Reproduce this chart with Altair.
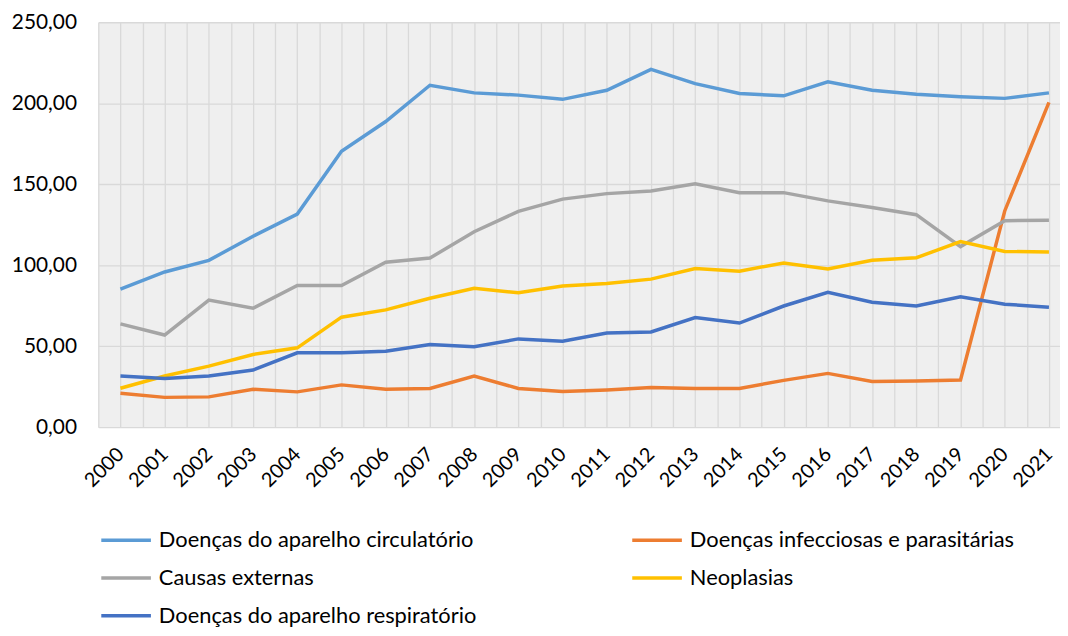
import altair as alt
import pandas as pd

years = list(range(2000, 2022))

circulatorio = [85.3, 95.8, 103.0, 117.9, 131.6, 170.3, 188.7, 211.1, 206.4, 205.0, 202.4,
                208.0, 220.9, 212.1, 206.0, 204.6, 213.2, 208.0, 205.6, 204.0, 203.0, 206.4]
infecciosas = [21.0, 18.4, 18.7, 23.4, 21.8, 26.1, 23.4, 23.9, 31.6, 23.9, 22.0,
               23.0, 24.5, 23.9, 23.9, 28.9, 33.2, 28.2, 28.5, 29.1, 133.5, 200.5]
externas = [63.8, 56.9, 78.5, 73.4, 87.5, 87.5, 101.8, 104.4, 120.7, 133.2, 140.8,
            144.2, 145.8, 150.3, 144.8, 144.8, 139.7, 135.6, 131.2, 111.5, 127.5, 127.8]
neoplasias = [24.0, 31.6, 37.7, 44.9, 49.0, 67.9, 72.4, 79.6, 85.7, 83.0, 87.1,
              88.7, 91.4, 97.9, 96.3, 101.4, 97.7, 103.0, 104.6, 114.6, 108.5, 108.1]
respiratorio = [31.6, 30.0, 31.6, 35.3, 45.9, 45.9, 46.9, 51.0, 49.6, 54.5, 53.0,
                58.1, 58.8, 67.7, 64.3, 74.8, 83.2, 77.1, 74.8, 80.5, 75.9, 74.1]

series_names = [
    "Doenças do aparelho circulatório",
    "Doenças infecciosas e parasitárias",
    "Causas externas",
    "Neoplasias",
    "Doenças do aparelho respiratório",
]
series_values = [circulatorio, infecciosas, externas, neoplasias, respiratorio]
series_colors = ["#5B9BD5", "#ED7D31", "#A5A5A5", "#FFC000", "#4472C4"]

# legend is filled column by column: left column first, then right column
legend_order = [0, 2, 4, 1, 3]
legend_names = [series_names[i] for i in legend_order]
legend_colors = [series_colors[i] for i in legend_order]

rows = []
for name, vals in zip(series_names, series_values):
    for y, v in zip(years, vals):
        rows.append({"ano": y, "valor": v, "serie": name})
df = pd.DataFrame(rows)

grid_values = [1999.5 + 0.5 * i for i in range(45)]
y_ticks = [0, 50, 100, 150, 200, 250]

FONT = "Lato"

chart = alt.Chart(df).mark_line(strokeWidth=3.5, clip=True).encode(
    x=alt.X(
        "ano:Q",
        scale=alt.Scale(domain=[1999.5, 2021.25], nice=False, zero=False),
        axis=alt.Axis(
            values=grid_values,
            labelExpr="datum.value % 1 == 0 ? datum.value : ''",
            labelAngle=-45,
            labelAlign="right",
            labelBaseline="middle",
            labelPadding=24,
            labelFontSize=20,
            labelFont=FONT,
            labelColor="#000000",
            ticks=False,
            domain=False,
            grid=True,
            gridColor="#d9d9d9",
            gridWidth=1.3,
            title=None,
            labelOverlap=False,
            labelFlush=False,
        ),
    ),
    y=alt.Y(
        "valor:Q",
        scale=alt.Scale(domain=[0, 250], nice=False),
        axis=alt.Axis(
            values=y_ticks,
            labelExpr="replace(format(datum.value, '.2f'), '.', ',')",
            labelFontSize=21,
            labelFont=FONT,
            labelColor="#000000",
            labelPadding=22,
            ticks=False,
            domain=False,
            grid=True,
            gridColor="#d9d9d9",
            gridWidth=1.3,
            title=None,
        ),
    ),
    color=alt.Color(
        "serie:N",
        scale=alt.Scale(domain=legend_names, range=legend_colors),
        sort=legend_names,
        legend=alt.Legend(
            orient="none",
            legendX=1,
            legendY=495,
            columns=2,
            title=None,
            symbolType="stroke",
            symbolSize=2500,
            symbolStrokeWidth=3.5,
            labelFont=FONT,
            labelFontSize=22,
            labelColor="#000000",
            labelLimit=600,
            labelOffset=6,
            rowPadding=0,
            columnPadding=150,
            padding=0,
        ),
    ),
).properties(
    width=969,
    height=408,
    padding={"left": 91, "top": 12, "right": 0, "bottom": 200},
    autosize=alt.AutoSizeParams(type="none"),
).configure_view(
    fill="#efefef",
    stroke=None,
)

chart.save("out.html", embed_options={"renderer": "svg", "actions": False})
